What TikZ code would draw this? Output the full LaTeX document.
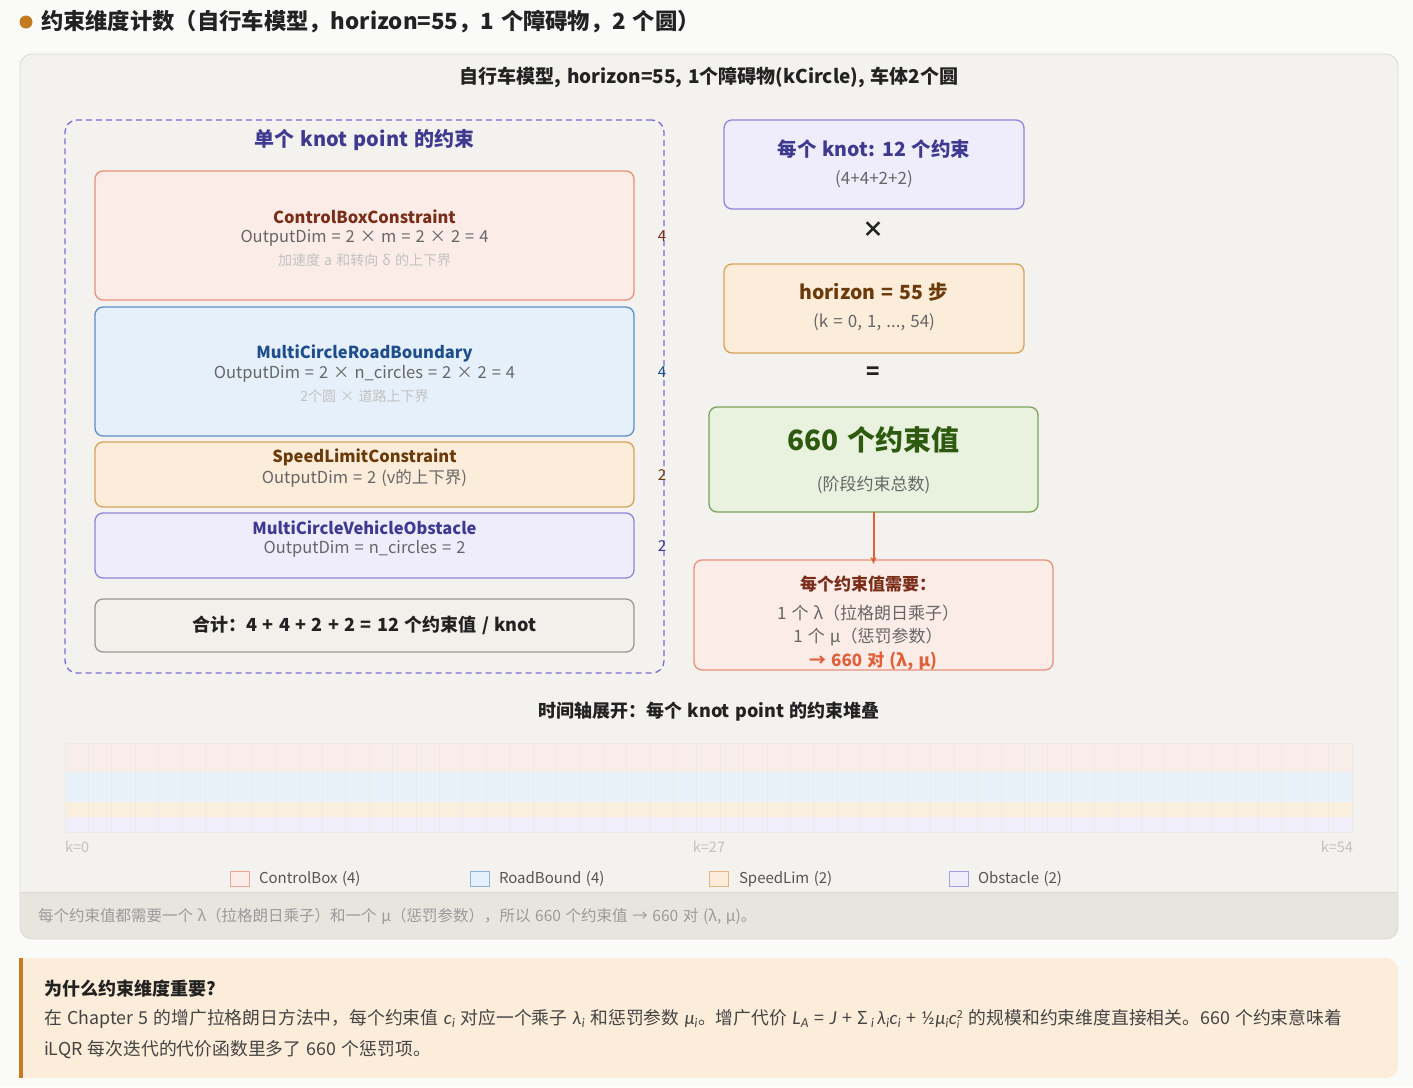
\documentclass[tikz,border=0pt]{standalone}
\usepackage{fontspec}
\setmainfont{Noto Sans CJK SC}
\newfontfamily\mif{Lato}
\newcommand\mv[1]{{\mif\itshape #1}}
\newcommand\msub[1]{\textsubscript{\mv{#1}}}
\newcommand\csq{$\mbox{\mv{c}}_{\mbox{\fontsize{11}{11}\selectfont\mv{i}}}^{\mbox{\fontsize{11}{11}\selectfont 2}}$}
\DeclareRobustCommand\wsp{\spaceskip 0.3em\relax}
\usetikzlibrary{arrows.meta}
\definecolor{pagebg}{HTML}{FAFAF8}
\definecolor{panelbg}{HTML}{F3F2EE}
\definecolor{panelline}{HTML}{DCDAD4}
\definecolor{stripbg}{HTML}{E8E5DF}
\definecolor{dotc}{HTML}{C27B1F}
\definecolor{pinkf}{HTML}{FBECE7}
\definecolor{pinkd}{HTML}{E8907A}
\definecolor{pinkt}{HTML}{7A2E1A}
\definecolor{bluef}{HTML}{E6F0FA}
\definecolor{blued}{HTML}{5B8FC7}
\definecolor{bluet}{HTML}{1F4E8C}
\definecolor{orf}{HTML}{FBEDDA}
\definecolor{ord}{HTML}{D9A25A}
\definecolor{ort}{HTML}{6B3A0A}
\definecolor{purf}{HTML}{EFEDFC}
\definecolor{purd}{HTML}{8F85D9}
\definecolor{purt}{HTML}{3F3A8F}
\definecolor{dashc}{HTML}{7B6FD0}
\definecolor{grnf}{HTML}{E8F2DE}
\definecolor{grnd}{HTML}{7AA35A}
\definecolor{grnt}{HTML}{2D5A0F}
\definecolor{sumf}{HTML}{F2F0EB}
\definecolor{sumd}{HTML}{9A9894}
\definecolor{midt}{HTML}{666666}
\definecolor{lightt}{HTML}{C2C2C2}
\definecolor{darkt}{HTML}{222222}
\definecolor{arrc}{HTML}{E0603A}
\definecolor{notebg}{HTML}{FBEDD9}
\definecolor{notebar}{HTML}{C77A1E}
\definecolor{notet}{HTML}{444444}
\definecolor{stript}{HTML}{9A9A9A}
\definecolor{legt}{HTML}{555555}
\definecolor{cellsep}{HTML}{ECEAE5}
\begin{document}
\begin{tikzpicture}[x=1pt,y=-1pt,
  every node/.style={inner sep=0pt,outer sep=0pt},
  cbox/.style={draw,rounded corners=8pt,line width=1.3pt},
  fs/.style={font=\fontsize{#1}{#1}\selectfont\wsp},
  bfs/.style={font=\fontsize{#1}{#1}\selectfont\bfseries\wsp},
  side/.style={fs=15},
  arr/.style={-{Stealth[length=7pt,width=6pt]},line width=2pt,draw=arrc},
  cell/.style={draw=cellsep,line width=0.9pt},
  legsq/.style={line width=1.4pt,minimum width=19pt,minimum height=15pt}
]
\useasboundingbox (0,0) rectangle (1413,1087);
\fill[pagebg] (0,0) rectangle (1413,1087);

% heading
\fill[dotc] (26,22) circle (6.5);
\node[bfs=22.3,anchor=west,text=darkt] (head) at (41,22) {约束维度计数（自行车模型，horizon=55，1 个障碍物，2 个圆）};

% main panel
\fill[panelbg,rounded corners=12pt] (20,54) rectangle (1398,939);
\begin{scope}
\clip[rounded corners=12pt] (20,54) rectangle (1398,939);
\fill[stripbg] (20,892) rectangle (1398,939);
\end{scope}
\draw[panelline,line width=0.9pt] (20,892) -- (1398,892);
\draw[panelline,line width=0.9pt,rounded corners=12pt] (20,54) rectangle (1398,939);
\node[bfs=19,text=darkt] (ptitle) at (709,77) {自行车模型, horizon=55, 1个障碍物(kCircle), 车体2个圆};
\node[fs=15.5,anchor=west,text=stript] (strip) at (38,916) {每个约束值都需要一个 λ（拉格朗日乘子）和一个 μ（惩罚参数），所以 660 个约束值 → 660 对 (λ, μ)。};

% dashed group
\node[draw=dashc,dashed,dash pattern=on 6pt off 4pt,line width=1.3pt,rounded corners=12pt,minimum width=599pt,minimum height=553pt] (grp) at (364.5,396.5) {};
\node[bfs=20,text=purt] (grpt) at (364.5,140) {单个 knot point 的约束};

% ControlBox
\node[cbox,draw=pinkd,fill=pinkf,minimum width=539pt,minimum height=129pt] (cb) at (364.5,235.5) {};
\node[bfs=16.5,text=pinkt] (cb1) at (364.5,217) {ControlBoxConstraint};
\node[fs=16.5,text=midt] (cb2) at (364.5,238) {OutputDim = 2 × m = 2 × 2 = 4};
\node[fs=14,text=lightt] (cb3) at (364.5,260) {加速度 a 和转向 δ 的上下界};
\node[side,text=pinkt] (cbn) at (662,236) {4};

% Road
\node[cbox,draw=blued,fill=bluef,minimum width=539pt,minimum height=129pt] (rb) at (364.5,371.5) {};
\node[bfs=16.5,text=bluet] (rb1) at (364.5,353) {MultiCircleRoadBoundary};
\node[fs=16.5,text=midt] (rb2) at (364.5,374) {OutputDim = 2 × n\_circles = 2 × 2 = 4};
\node[fs=14,text=lightt] (rb3) at (364.5,396) {2个圆 × 道路上下界};
\node[side,text=bluet] (rbn) at (662,372) {4};

% Speed
\node[cbox,draw=ord,fill=orf,minimum width=539pt,minimum height=65pt] (sl) at (364.5,474.5) {};
\node[bfs=16.5,text=ort] (sl1) at (364.5,457) {SpeedLimitConstraint};
\node[fs=16.5,text=midt] (sl2) at (364.5,478) {OutputDim = 2 (v的上下界)};
\node[side,text=ort] (sln) at (662,475) {2};

% Obstacle
\node[cbox,draw=purd,fill=purf,minimum width=539pt,minimum height=65pt] (ob) at (364.5,545.5) {};
\node[bfs=16.5,text=purt] (ob1) at (364.5,528) {MultiCircleVehicleObstacle};
\node[fs=16.5,text=midt] (ob2) at (364.5,549) {OutputDim = n\_circles = 2};
\node[side,text=purt] (obn) at (662,546) {2};

% Sum
\node[cbox,draw=sumd,fill=sumf,minimum width=539pt,minimum height=53pt] (sum) at (364.5,625.5) {};
\node[bfs=18,text=darkt] (sumt) at (364.5,625) {合计：4 + 4 + 2 + 2 = 12 个约束值 / knot};

% Right column
\node[cbox,draw=purd,fill=purf,minimum width=300pt,minimum height=89pt] (knot) at (874,164.5) {};
\node[bfs=19.5,text=purt] (knot1) at (874,149) {每个 knot: 12 个约束};
\node[fs=17,text=midt] (knot2) at (874,179) {(4+4+2+2)};
\node[bfs=22,text=darkt] (times) at (873,230) {×};

\node[cbox,draw=ord,fill=orf,minimum width=300pt,minimum height=89pt] (hor) at (874,308.5) {};
\node[bfs=19.5,text=ort] (hor1) at (874,292) {horizon = 55 步};
\node[fs=17,text=midt] (hor2) at (874,322) {(k = 0, 1, ..., 54)};
\node[bfs=22,text=darkt] (eq) at (873,373) {=};

\node[cbox,draw=grnd,fill=grnf,minimum width=329pt,minimum height=105pt] (tot) at (873.5,459.5) {};
\node[bfs=28,text=grnt] (tot1) at (873.5,440) {660 个约束值};
\node[fs=17,text=midt] (tot2) at (873.5,485) {(阶段约束总数)};

\node[cbox,draw=pinkd,fill=pinkf,minimum width=359pt,minimum height=110pt] (need) at (873.5,615) {};
\node[bfs=17,text=pinkt] (need1) at (868,584) {每个约束值需要：};
\node[fs=17,text=midt] (need2) at (868,613) {1 个 λ（拉格朗日乘子）};
\node[fs=17,text=midt] (need3) at (868,637) {1 个 μ（惩罚参数）};
\node[bfs=17,text=arrc] (need4) at (873,661) {→ 660 对 (λ, μ)};
\draw[arr] (tot.south) -- ([yshift=-4pt]need.north);

% timeline
\node[bfs=18,text=darkt] (tlt) at (709,712) {时间轴展开：每个 knot point 的约束堆叠};
\foreach \i in {0,...,54}{
  \pgfmathsetmacro{\xa}{65+\i*23.4}
  \pgfmathsetmacro{\xb}{65+(\i+1)*23.4}
  \fill[pinkf!75!panelbg] (\xa,743) rectangle (\xb,772);
  \fill[bluef!85!panelbg] (\xa,772) rectangle (\xb,802);
  \fill[orf!85!panelbg] (\xa,802) rectangle (\xb,817);
  \fill[purf!85!panelbg] (\xa,817) rectangle (\xb,832);
  \draw[cell] (\xa,743) rectangle (\xb,832);
}
\node[fs=14.5,anchor=west,text=lightt] (k0) at (65,847) {k=0};
\node[fs=14.5,text=lightt] (k27) at (709,847) {k=27};
\node[fs=14.5,anchor=east,text=lightt] (k54) at (1353,847) {k=54};

% legend
\node[legsq,draw=pinkd!80,fill=pinkf] (l1) at (240,879) {};
\node[fs=15,anchor=west,text=legt] (l1t) at (259,879) {ControlBox (4)};
\node[legsq,draw=blued!70,fill=bluef] (l2) at (480,879) {};
\node[fs=15,anchor=west,text=legt] (l2t) at (499,879) {RoadBound (4)};
\node[legsq,draw=ord!80,fill=orf] (l3) at (719,879) {};
\node[fs=15,anchor=west,text=legt] (l3t) at (739,879) {SpeedLim (2)};
\node[legsq,draw=purd!80,fill=purf] (l4) at (959,879) {};
\node[fs=15,anchor=west,text=legt] (l4t) at (978,879) {Obstacle (2)};

% note box
\fill[notebg,rounded corners=12pt] (20,958) rectangle (1398,1078);
\fill[notebg] (20,958) rectangle (60,1078);
\fill[notebar] (19,958) rectangle (23,1078);
\node[bfs=18,anchor=west,text=darkt] (nt) at (44,989) {为什么约束维度重要?};
\node[fs=17.8,anchor=west,text=notet] (nl1) at (44,1019) {在 Chapter 5 的增广拉格朗日方法中，每个约束值 \mv{c}\msub{i} 对应一个乘子 \mv{λ}\msub{i} 和惩罚参数 \mv{μ}\msub{i}。增广代价 \mv{L}\msub{A} = \mv{J} + Σ\,\msub{i}\,\mv{λ}\msub{i}\mv{c}\msub{i} + {\mif ½}\kern1pt\mv{μ}\msub{i}\csq\ 的规模和约束维度直接相关。660 个约束意味着};
\node[fs=17.8,anchor=west,text=notet] (nl2) at (44,1050) {iLQR 每次迭代的代价函数里多了 660 个惩罚项。};
\end{tikzpicture}
\end{document}
